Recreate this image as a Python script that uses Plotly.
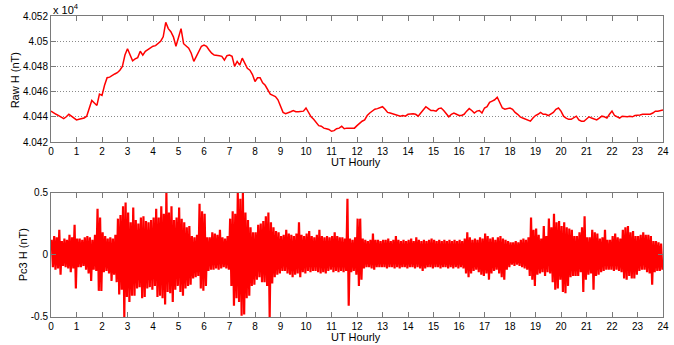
import numpy as np
import plotly.graph_objects as go

# ---------------- data ----------------
hours_raw = np.arange(241) * 0.1  # UT hours, 0.1 h steps

raw_h = [
    40444.5, 40443, 40442, 40441, 40440, 40438.5, 40440, 40442, 40440.5, 40439,
    40437.5, 40438, 40438.7, 40439, 40440.5, 40446, 40453, 40451, 40449, 40458,
    40457, 40465, 40471, 40471.5, 40473, 40474, 40475, 40477, 40480, 40489,
    40494, 40489, 40484.5, 40486, 40487, 40492, 40489, 40492, 40493.5, 40495,
    40496, 40496.5, 40498, 40500, 40503.5, 40515, 40510, 40507.5, 40503.5, 40496,
    40503, 40510, 40498, 40496, 40494.5, 40490.5, 40484, 40488, 40492, 40496,
    40497, 40496, 40493, 40490.5, 40489, 40489, 40488.5, 40488, 40485, 40488.5,
    40489, 40488, 40480, 40484, 40481, 40486.5, 40482.5, 40478.5, 40477, 40473.5,
    40468, 40471, 40471, 40467, 40465, 40461.5, 40458, 40457, 40456, 40453.5,
    40448.5, 40443.5, 40442.5, 40443, 40444, 40445, 40444, 40444, 40444.5, 40444.5,
    40447, 40443.5, 40440, 40438, 40435, 40433, 40432.5, 40431, 40430.5, 40430,
    40428.5, 40429, 40430.5, 40431, 40432.5, 40430.5, 40431, 40431, 40431, 40431,
    40433, 40435, 40436.5, 40437.5, 40441, 40443, 40444.5, 40446, 40446.5, 40447,
    40448, 40446, 40443.5, 40443, 40442.5, 40442, 40441.5, 40440.5, 40441, 40440.5,
    40442, 40442.5, 40442.5, 40442, 40440.5, 40443, 40446, 40448, 40446.5, 40445,
    40445, 40444.5, 40446.5, 40447, 40445, 40442, 40440, 40442, 40443, 40442,
    40441, 40441, 40442, 40444.5, 40446.5, 40445, 40443, 40444.5, 40445, 40443,
    40447, 40448, 40451.5, 40452.5, 40453.5, 40455.5, 40451, 40447, 40446, 40446.5,
    40447, 40446, 40443.5, 40442, 40440, 40439, 40438, 40437, 40436.5, 40439,
    40441, 40442, 40443.5, 40442, 40442, 40441, 40442, 40443.5, 40446, 40447,
    40444.5, 40440.5, 40439, 40438, 40438, 40439, 40440.5, 40437.5, 40436.5, 40436.5,
    40438, 40440, 40439, 40438, 40437.5, 40439, 40440.5, 40440, 40439, 40442,
    40444.5, 40441, 40440, 40439, 40440.5, 40440, 40440, 40440.5, 40440, 40441,
    40441, 40441.5, 40442, 40442, 40442.5, 40442, 40443, 40444.5, 40444.5, 40445,
    40445.5,
]

# Pc3 filtered H: upper / lower extremes in each 0.1 h window
pc3_upper = [
    0.12, 0.15, 0.14, 0.20, 0.11, 0.13, 0.12, 0.16, 0.14, 0.24,
    0.13, 0.13, 0.12, 0.14, 0.15, 0.14, 0.12, 0.16, 0.37, 0.30,
    0.18, 0.15, 0.13, 0.14, 0.13, 0.16, 0.29, 0.32, 0.39, 0.42,
    0.34, 0.26, 0.38, 0.28, 0.25, 0.30, 0.31, 0.27, 0.26, 0.28,
    0.30, 0.37, 0.30, 0.39, 0.33, 0.50, 0.34, 0.39, 0.28, 0.30,
    0.38, 0.29, 0.26, 0.22, 0.23, 0.15, 0.14, 0.16, 0.41, 0.35,
    0.33, 0.14, 0.14, 0.18, 0.17, 0.16, 0.20, 0.14, 0.13, 0.15,
    0.29, 0.35, 0.33, 0.50, 0.45, 0.50, 0.34, 0.28, 0.22, 0.18,
    0.18, 0.24, 0.25, 0.27, 0.31, 0.34, 0.26, 0.22, 0.19, 0.18,
    0.15, 0.16, 0.20, 0.17, 0.16, 0.15, 0.17, 0.26, 0.16, 0.15,
    0.17, 0.19, 0.15, 0.14, 0.16, 0.20, 0.15, 0.14, 0.15, 0.14,
    0.15, 0.18, 0.15, 0.14, 0.14, 0.13, 0.45, 0.13, 0.12, 0.14,
    0.29, 0.29, 0.13, 0.12, 0.11, 0.12, 0.17, 0.12, 0.12, 0.11,
    0.12, 0.12, 0.13, 0.11, 0.12, 0.15, 0.12, 0.11, 0.12, 0.11,
    0.12, 0.13, 0.11, 0.14, 0.12, 0.11, 0.12, 0.11, 0.12, 0.13,
    0.12, 0.11, 0.12, 0.11, 0.12, 0.11, 0.12, 0.11, 0.12, 0.11,
    0.12, 0.11, 0.13, 0.18, 0.14, 0.12, 0.13, 0.12, 0.14, 0.13,
    0.17, 0.15, 0.13, 0.14, 0.12, 0.14, 0.15, 0.13, 0.12, 0.11,
    0.10, 0.10, 0.11, 0.10, 0.12, 0.13, 0.12, 0.14, 0.30, 0.20,
    0.21, 0.16, 0.13, 0.23, 0.15, 0.29, 0.22, 0.33, 0.26, 0.27,
    0.23, 0.26, 0.22, 0.21, 0.20, 0.15, 0.15, 0.18, 0.22, 0.31,
    0.14, 0.14, 0.20, 0.18, 0.17, 0.13, 0.14, 0.20, 0.12, 0.12,
    0.15, 0.17, 0.14, 0.13, 0.20, 0.22, 0.23, 0.18, 0.19, 0.15,
    0.15, 0.16, 0.18, 0.16, 0.16, 0.15, 0.11, 0.11, 0.10, 0.09,
]
pc3_lower = [
    -0.10, -0.12, -0.11, -0.16, -0.09, -0.10, -0.11, -0.14, -0.11, -0.27,
    -0.10, -0.10, -0.09, -0.12, -0.15, -0.21, -0.12, -0.13, -0.29, -0.29,
    -0.14, -0.13, -0.15, -0.21, -0.16, -0.22, -0.32, -0.28, -0.50, -0.34,
    -0.38, -0.33, -0.33, -0.27, -0.26, -0.35, -0.34, -0.27, -0.26, -0.28,
    -0.25, -0.34, -0.33, -0.35, -0.40, -0.30, -0.31, -0.38, -0.28, -0.25,
    -0.30, -0.33, -0.27, -0.25, -0.24, -0.19, -0.18, -0.17, -0.27, -0.29,
    -0.25, -0.13, -0.12, -0.12, -0.11, -0.12, -0.11, -0.10, -0.11, -0.12,
    -0.25, -0.41, -0.35, -0.38, -0.49, -0.48, -0.35, -0.33, -0.25, -0.24,
    -0.20, -0.18, -0.22, -0.22, -0.25, -0.50, -0.23, -0.18, -0.16, -0.15,
    -0.13, -0.13, -0.15, -0.16, -0.18, -0.16, -0.15, -0.18, -0.14, -0.15,
    -0.13, -0.14, -0.13, -0.13, -0.14, -0.15, -0.14, -0.15, -0.13, -0.12,
    -0.14, -0.13, -0.14, -0.13, -0.14, -0.13, -0.41, -0.14, -0.13, -0.16,
    -0.25, -0.20, -0.11, -0.10, -0.10, -0.11, -0.12, -0.10, -0.10, -0.10,
    -0.10, -0.11, -0.10, -0.10, -0.11, -0.10, -0.11, -0.10, -0.10, -0.11,
    -0.10, -0.10, -0.11, -0.10, -0.11, -0.13, -0.11, -0.10, -0.10, -0.11,
    -0.10, -0.10, -0.11, -0.10, -0.10, -0.11, -0.10, -0.11, -0.10, -0.11,
    -0.10, -0.11, -0.15, -0.18, -0.15, -0.13, -0.12, -0.14, -0.16, -0.17,
    -0.15, -0.20, -0.15, -0.13, -0.12, -0.15, -0.18, -0.20, -0.12, -0.10,
    -0.08, -0.09, -0.08, -0.09, -0.10, -0.11, -0.12, -0.17, -0.20, -0.25,
    -0.16, -0.15, -0.14, -0.17, -0.14, -0.15, -0.22, -0.28, -0.27, -0.20,
    -0.30, -0.31, -0.25, -0.18, -0.17, -0.17, -0.17, -0.14, -0.30, -0.20,
    -0.16, -0.15, -0.28, -0.17, -0.16, -0.14, -0.13, -0.12, -0.12, -0.12,
    -0.13, -0.12, -0.13, -0.14, -0.19, -0.20, -0.17, -0.19, -0.19, -0.16,
    -0.13, -0.12, -0.12, -0.14, -0.15, -0.24, -0.14, -0.13, -0.13, -0.12,
]

hour_ticks = list(range(25))
raw_tickvals = [40420, 40440, 40460, 40480, 40500, 40520]
raw_ticktext = ["4.042", "4.044", "4.046", "4.048", "4.05", "4.052"]
pc3_tickvals = [-0.5, 0, 0.5]
pc3_ticktext = ["-0.5", "0", "0.5"]

# arrange each window's extremes as a zig-zag trace
n = len(pc3_upper)
t_win = np.arange(n) * 0.1
pc3_x = np.empty(2 * n)
pc3_x[0::2] = t_win + 0.025
pc3_x[1::2] = t_win + 0.075
pc3_y = np.empty(2 * n)
pc3_y[0::2] = pc3_upper
pc3_y[1::2] = pc3_lower

# ---------------- figure ----------------
FONT = "Liberation Sans, Arial, Helvetica, sans-serif"
fig = go.Figure()
fig.add_trace(go.Scatter(x=hours_raw, y=raw_h, mode="lines",
                         line=dict(color="#ff0000", width=1.5),
                         xaxis="x", yaxis="y", showlegend=False))
fig.add_trace(go.Scatter(x=pc3_x, y=pc3_y, mode="lines",
                         line=dict(color="#ff0000", width=2.2),
                         xaxis="x2", yaxis="y2", showlegend=False))

axis_common = dict(showline=True, linecolor="#7a7a7a", linewidth=1, mirror="ticks",
                   ticks="inside", ticklen=5, tickcolor="#7a7a7a",
                   tickfont=dict(family=FONT, size=10, color="black"),
                   ticklabeloverflow="allow",
                   zeroline=False, showgrid=False)

fig.update_layout(
    width=674, height=345,
    margin=dict(l=51, r=5, t=16, b=28),
    paper_bgcolor="white", plot_bgcolor="white",
    font=dict(family=FONT, size=11, color="black"),
    xaxis=dict(axis_common, domain=[0, 1], anchor="y", range=[0, 24],
               tickvals=hour_ticks, ticktext=[str(h) for h in hour_ticks]),
    yaxis=dict(axis_common, domain=[0.5814, 1.0], anchor="x", range=[40420, 40520],
               tickvals=raw_tickvals, ticktext=raw_ticktext,
               showgrid=True, gridcolor="#8a8a8a", griddash="1px,2px", gridwidth=1),
    xaxis2=dict(axis_common, domain=[0, 1], anchor="y2", range=[0, 24],
                tickvals=hour_ticks, ticktext=[str(h) for h in hour_ticks]),
    yaxis2=dict(axis_common, domain=[0, 0.4136], anchor="x2", range=[-0.5, 0.5],
                tickvals=pc3_tickvals, ticktext=pc3_ticktext),
)

ann = dict(xref="paper", yref="paper", showarrow=False,
           font=dict(family=FONT, size=11, color="black"))
fig.add_annotation(ann, text="Raw H (nT)", x=(15 - 51) / 618, y=(317 - 80) / 301,
                   textangle=-90, xanchor="center", yanchor="middle")
fig.add_annotation(ann, text="Pc3 H (nT)", x=(23 - 51) / 618, y=(317 - 255) / 301,
                   textangle=-90, xanchor="center", yanchor="middle")
fig.add_annotation(ann, text="UT Hourly", x=(359 - 51) / 618, y=(317 - 162) / 301,
                   xanchor="center", yanchor="middle")
fig.add_annotation(ann, text="UT Hourly", x=(359 - 51) / 618, y=(317 - 337) / 301,
                   xanchor="center", yanchor="middle")
fig.add_annotation(ann, text="x 10<sup>4</sup>", x=(51 - 51) / 618, y=(317 - 9) / 301,
                   xanchor="left", yanchor="middle")

fig.write_html("out.html")
